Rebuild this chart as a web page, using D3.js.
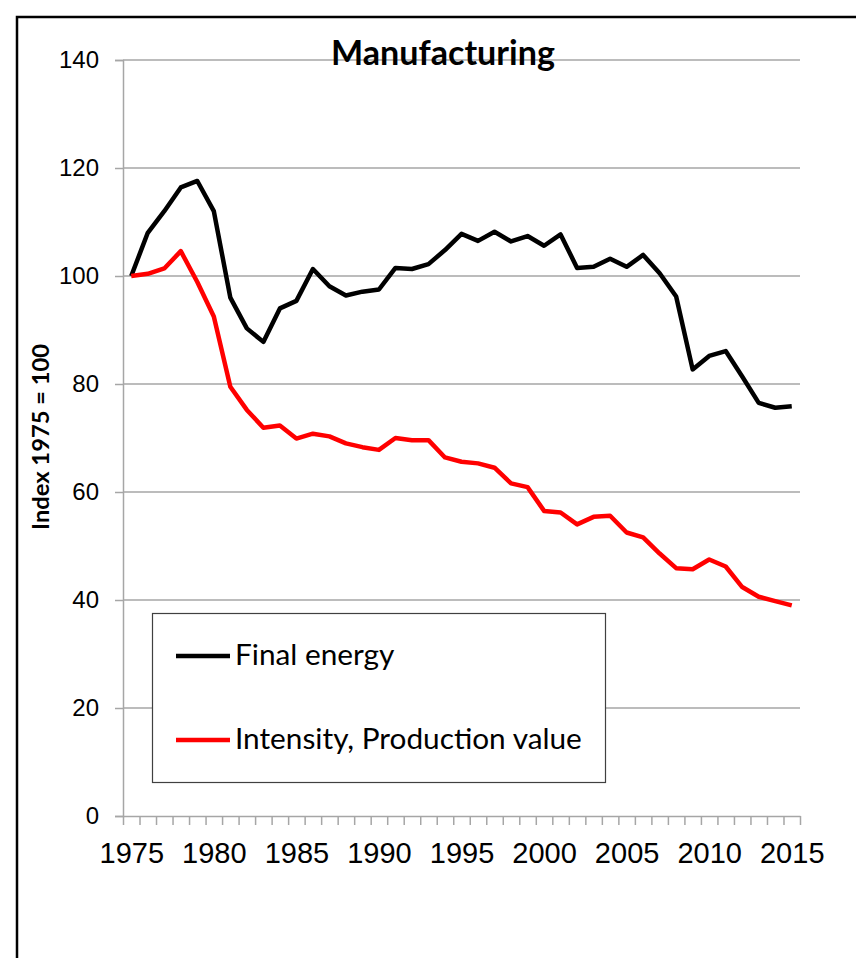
<!DOCTYPE html>
<html>
<head>
<meta charset="utf-8">
<script src="https://cdn.jsdelivr.net/npm/d3@7/dist/d3.min.js"></script>
<style>
  body { margin: 0; background: #fff; }
  svg { display: block; }
</style>
</head>
<body>
<div id="chart"></div>
<script>
// data (index 1975 = 100)
const years = [1975, 1976, 1977, 1978, 1979, 1980, 1981, 1982, 1983, 1984,
               1985, 1986, 1987, 1988, 1989, 1990, 1991, 1992, 1993, 1994,
               1995, 1996, 1997, 1998, 1999, 2000, 2001, 2002, 2003, 2004,
               2005, 2006, 2007, 2008, 2009, 2010, 2011, 2012, 2013, 2014, 2015]
const finalEnergy = [100, 108, 112, 116.4, 117.6, 112, 96, 90.3, 87.8, 94,
                     95.4, 101.3, 98.1, 96.4, 97.1, 97.5, 101.5, 101.3, 102.2, 104.8,
                     107.8, 106.5, 108.2, 106.4, 107.4, 105.6, 107.7, 101.5, 101.7, 103.2,
                     101.7, 103.9, 100.5, 96.2, 82.7, 85.2, 86.1, 81.4, 76.5, 75.6, 75.9]
const intensity = [100, 100.4, 101.4, 104.6, 98.9, 92.5, 79.5, 75.2, 71.9, 72.3,
                   69.9, 70.8, 70.3, 69.0, 68.3, 67.8, 70.0, 69.6, 69.6, 66.4,
                   65.6, 65.3, 64.5, 61.6, 60.9, 56.5, 56.2, 54.0, 55.4, 55.6,
                   52.5, 51.6, 48.6, 45.9, 45.7, 47.5, 46.2, 42.4, 40.6, 39.8, 39.0]
const yTicks = [0, 20, 40, 60, 80, 100, 120, 140]
const xLabels = [1975, 1980, 1985, 1990, 1995, 2000, 2005, 2010, 2015]
const seriesNames = ["Final energy", "Intensity, Production value"]
const seriesColors = ["#000000", "#ff0000"]

const width = 856, height = 958
const plot = {left: 123, right: 800, top: 60, bottom: 816}
const gridColor = "#a6a6a6"

const svg = d3.select("#chart").append("svg")
    .attr("width", width)
    .attr("height", height)

// outer frame (only top and left edges are visible)
svg.append("path")
    .attr("d", `M17,${height} L17,17 L${width},17`)
    .attr("fill", "none")
    .attr("stroke", "#000")
    .attr("stroke-width", 2.5)

const x = d3.scaleLinear()
    .domain([years[0] - 0.5, years[years.length - 1] + 0.5])
    .range([plot.left, plot.right])
const y = d3.scaleLinear().domain([0, 140]).range([plot.bottom, plot.top])

// gridlines
svg.append("g")
    .selectAll("line")
    .data(yTicks.filter(d => d > 0))
    .enter().append("line")
    .attr("x1", plot.left)
    .attr("x2", plot.right)
    .attr("y1", d => y(d))
    .attr("y2", d => y(d))
    .attr("stroke", gridColor)
    .attr("stroke-width", 1.5)

// y axis
const yAxis = svg.append("g")
    .attr("transform", `translate(${plot.left},0)`)
    .call(d3.axisLeft(y).tickValues(yTicks).tickSize(8).tickPadding(16))
yAxis.select(".domain").attr("stroke", gridColor).attr("stroke-width", 1.5)
yAxis.selectAll(".tick line").attr("stroke", gridColor).attr("stroke-width", 1.5)
yAxis.selectAll(".tick text")
    .attr("font-family", "'Liberation Sans', Arial, sans-serif")
    .attr("font-size", 24)
    .attr("fill", "#000")

// x axis: tick marks between categories, labels every five years
const boundaries = years.map(d => d - 0.5).concat([years[years.length - 1] + 0.5])
const xAxis = svg.append("g")
    .attr("transform", `translate(0,${plot.bottom})`)
    .call(d3.axisBottom(x).tickValues(boundaries).tickSize(9).tickFormat("").tickSizeOuter(0))
xAxis.select(".domain").attr("stroke", gridColor).attr("stroke-width", 1.5)
xAxis.selectAll(".tick line").attr("stroke", gridColor).attr("stroke-width", 1.5)

const xLab = svg.append("g")
    .attr("transform", `translate(0,${plot.bottom})`)
    .call(d3.axisBottom(x).tickValues(xLabels).tickSize(0).tickPadding(26).tickFormat(d3.format("d")))
xLab.select(".domain").remove()
xLab.selectAll(".tick text")
    .attr("font-family", "'Liberation Sans', Arial, sans-serif")
    .attr("font-size", 29)
    .attr("fill", "#000")

// lines
const line = d3.line()
    .x((d, i) => x(years[i]))
    .y(d => y(d))
    .curve(d3.curveLinear)

;[finalEnergy, intensity].forEach((series, k) => {
    svg.append("path")
        .datum(series)
        .attr("d", line)
        .attr("fill", "none")
        .attr("stroke", seriesColors[k])
        .attr("stroke-width", 4.5)
        .attr("stroke-linejoin", "round")
})

// shrink/grow a text element's font so it spans a given width
function fitText(sel, target) {
    const size = parseFloat(sel.attr("font-size"))
    const len = sel.node().getComputedTextLength()
    sel.attr("font-size", (size * target / len).toFixed(2))
}

// title
const title = svg.append("text")
    .attr("x", 443)
    .attr("y", 65)
    .attr("text-anchor", "middle")
    .attr("font-family", "Lato, sans-serif")
    .attr("font-weight", "bold")
    .attr("font-size", 34)
    .text("Manufacturing")
fitText(title, 224)

// y axis title
const yTitle = svg.append("text")
    .attr("transform", "translate(49,437) rotate(-90)")
    .attr("text-anchor", "middle")
    .attr("font-family", "Lato, sans-serif")
    .attr("font-weight", "bold")
    .attr("font-size", 20)
    .text("Index 1975 = 100")
fitText(yTitle, 186)

// legend
const legend = svg.append("g")
legend.append("rect")
    .attr("x", 152.5)
    .attr("y", 613.5)
    .attr("width", 453)
    .attr("height", 169)
    .attr("fill", "#fff")
    .attr("stroke", "#404040")
    .attr("stroke-width", 1.2)

const rowY = [656, 740]
seriesNames.forEach((name, k) => {
    legend.append("line")
        .attr("x1", 176)
        .attr("x2", 230)
        .attr("y1", rowY[k])
        .attr("y2", rowY[k])
        .attr("stroke", seriesColors[k])
        .attr("stroke-width", 4.5)
    legend.append("text")
        .attr("class", "legend-label")
        .attr("x", 235)
        .attr("y", rowY[k] + 9)
        .attr("font-family", "Lato, sans-serif")
        .attr("font-size", 30)
        .attr("fill", "#000")
        .text(name)
})
// size both labels from the longer one
const longLabel = legend.selectAll(".legend-label").filter((d, i) => i === 1)
fitText(longLabel, 347)
legend.selectAll(".legend-label").attr("font-size", longLabel.attr("font-size"))
</script>
</body>
</html>
